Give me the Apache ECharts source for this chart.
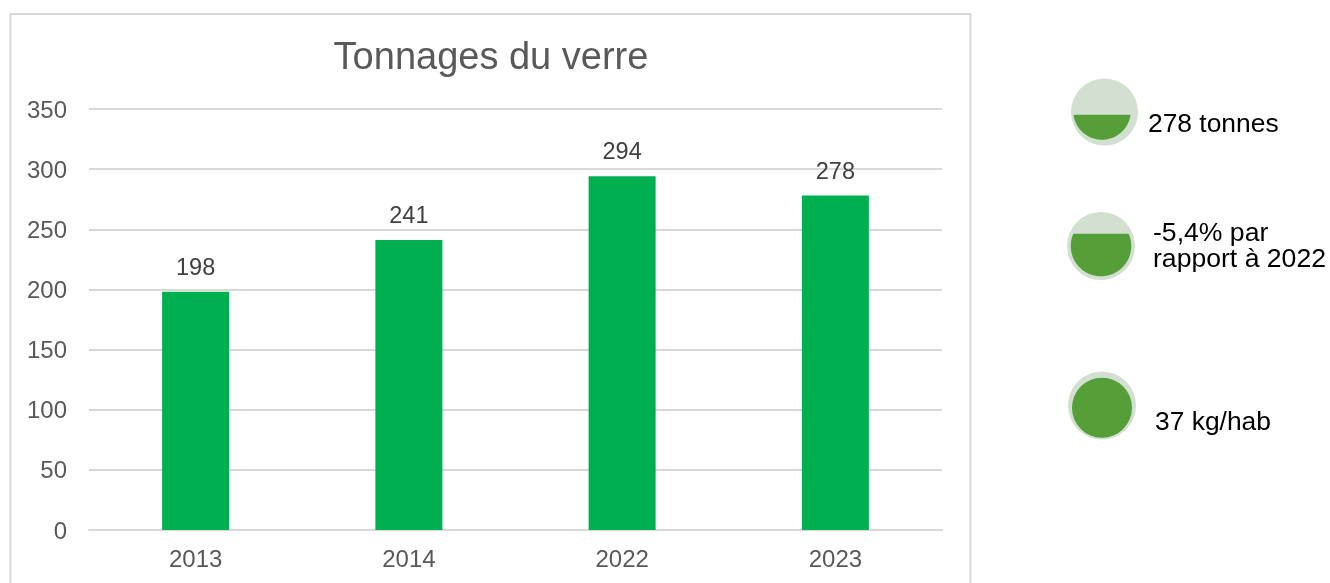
<!DOCTYPE html>
<html><head><meta charset="utf-8">
<style>html,body{margin:0;padding:0;background:#fff}#c{width:1330px;height:583px}</style>
<script src="https://cdn.jsdelivr.net/npm/echarts@6/dist/echarts.min.js"></script>
</head><body><div id="c"></div>
<script>
const categories = ['2013','2014','2022','2023'];
const tonnages = [198,241,294,278];
const chartTitle = 'Tonnages du verre';
const notes = ['278 tonnes','-5,4% par\nrapport à 2022','37 kg/hab'];
const F = '"Liberation Sans", Arial, sans-serif';
const chart = echarts.init(document.getElementById('c'), null, {renderer:'canvas'});
const pale = '#D3DFD0', green = '#559E38';
function seg(cx, cy, r, chordY){
  const a0 = Math.asin((chordY-cy)/r), a1 = Math.PI - a0, pts = [];
  for(let i=0;i<=90;i++){ const a = a0+(a1-a0)*i/90; pts.push([cx+r*Math.cos(a), cy+r*Math.sin(a)]); }
  return pts;
}
chart.setOption({
  animation:false,
  backgroundColor:'#fff',
  title:{text:chartTitle,left:486,top:35,textAlign:'center',
    textStyle:{fontFamily:F,fontSize:38,fontWeight:'normal',color:'#595959'}},
  grid:{left:89,right:388,top:109,height:421,containLabel:false},
  xAxis:{type:'category',data:categories,
    axisLine:{lineStyle:{color:'#D9D9D9',width:2}},axisTick:{show:false},
    axisLabel:{fontFamily:F,fontSize:24,color:'#595959',margin:18}},
  yAxis:{type:'value',min:0,max:350,interval:50,
    axisLine:{show:false},axisTick:{show:false},
    splitLine:{lineStyle:{color:'#D9D9D9',width:2}},
    axisLabel:{margin:22,formatter:'{v|{value}}',
      rich:{v:{fontFamily:F,fontSize:24,color:'#595959',padding:[4,0,0,0]}}}},
  series:[{type:'bar',data:tonnages,barWidth:67,
    itemStyle:{color:'#00B050'},
    label:{show:true,position:'top',distance:11.5,fontFamily:F,fontSize:23.5,color:'#404040'}}],
  graphic:[
    {type:'rect',silent:true,z:-1,shape:{x:10.5,y:14,width:960,height:580},style:{fill:'#fff',stroke:'#D9D9D9',lineWidth:2}},
    {type:'circle',silent:true,shape:{cx:1104.5,cy:112,r:33.5},style:{fill:pale}},
    {type:'polygon',silent:true,shape:{points:seg(1102,111,28,115.5)},style:{fill:green,stroke:green,lineWidth:1.5,lineJoin:'round'}},
    {type:'circle',silent:true,shape:{cx:1101,cy:246,r:34},style:{fill:pale}},
    {type:'polygon',silent:true,shape:{points:seg(1101,246,29.5,234.5)},style:{fill:green,stroke:green,lineWidth:1.5,lineJoin:'round'}},
    {type:'circle',silent:true,shape:{cx:1102,cy:405.5,r:34},style:{fill:pale}},
    {type:'circle',silent:true,shape:{cx:1102,cy:407.7,r:30},style:{fill:green}},
    {type:'text',silent:true,x:1148,y:125,style:{text:notes[0],fontFamily:F,fontSize:26.4,fill:'#000',verticalAlign:'middle'}},
    {type:'text',silent:true,x:1153,y:247,style:{text:notes[1],fontFamily:F,fontSize:26.6,lineHeight:26,fill:'#000',verticalAlign:'middle'}},
    {type:'text',silent:true,x:1155,y:423,style:{text:notes[2],fontFamily:F,fontSize:26.4,fill:'#000',verticalAlign:'middle'}}
  ]
});
</script></body></html>
